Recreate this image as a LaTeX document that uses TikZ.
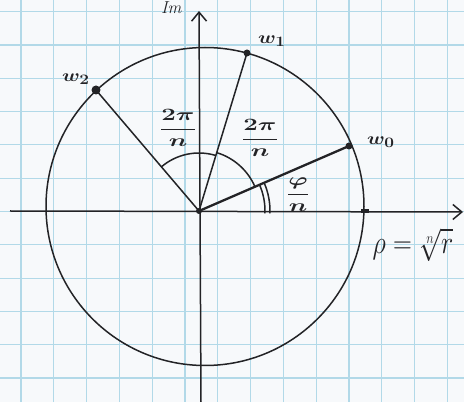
\documentclass[tikz,border=0pt]{standalone}
\usetikzlibrary{arrows.meta,calc}
\definecolor{ink}{RGB}{35,35,38}
\definecolor{gridblue}{RGB}{178,217,232}
\definecolor{paper}{RGB}{247,249,251}
\begin{document}
\begin{tikzpicture}[x=1pt,y=1pt,
  pen/.style={draw=ink, line width=1.5pt},
  gridline/.style={draw=gridblue, line width=1.1pt},
  dot/.style={circle, fill=ink, inner sep=0pt, minimum size=#1},
  lbl/.style={text=ink, inner sep=0pt},
  axisarrow/.style={pen, -{Straight Barb[length=9pt,width=15pt,line width=1.5pt]}}
]
\clip (0,0) rectangle (464,402);
\fill[paper] (0,0) rectangle (464,402);
% grid paper
\foreach \i in {0,...,13} \draw[gridline] ({21+32.8*\i},0) -- ({21+32.8*\i},402);
\foreach \j in {0,...,11} \draw[gridline] (0,{24+33.3*\j}) -- (464,{24+33.3*\j});

% key points
\coordinate (O) at (199,191);
\coordinate (C) at (205,195.5);
\coordinate (xl) at (10,191);
\coordinate (xr) at (463,190);
\coordinate (yb) at (201,0);
\coordinate (yt) at (199,391);

% circle
\draw[pen] (C) circle[radius=159];

% axes
\draw[axisarrow] (xl) -- (xr);
\draw[axisarrow] (yb) -- (yt);

% roots
\node[dot=7pt] (w0) at (349,256) {};
\node[dot=7pt] (w1) at (247,349) {};
\node[dot=9pt] (w2) at (96,312) {};
\node[dot=6pt] (o) at (O) {};
\node[rectangle, fill=ink, minimum width=8pt, minimum height=4pt, inner sep=0pt] (rho) at (365,190.5) {};

% rays
\draw[pen, line width=2.3pt] (o.center) -- (w0.center);
\draw[pen] (o.center) -- (w1.center);
\draw[pen] (o.center) -- (w2.center);

% angle arcs
\draw[pen] ($(O)+(130.4:58)$) arc[start angle=130.4, end angle=73.1, radius=58];
\draw[pen] ($(O)+(73.1:61)$) arc[start angle=73.1, end angle=23.4, radius=61];
\draw[pen] ($(O)+(-2:66)$) arc[start angle=-2, end angle=23.4, radius=66];
\draw[pen] ($(O)+(-2:71)$) arc[start angle=-2, end angle=23.4, radius=71];

% labels
\node[lbl, anchor=north, font=\fontsize{16}{18}\selectfont] (im) at (172,401) {$\mathit{Im}$};
\node[lbl, font=\fontsize{19}{22}\selectfont\boldmath] (lw2) at (76,323) {\scalebox{1.2}[1]{$w_2$}};
\node[lbl, font=\fontsize{19}{22}\selectfont\boldmath] (lw1) at (272,361) {\scalebox{1.2}[1]{$w_1$}};
\node[lbl, font=\fontsize{19}{22}\selectfont\boldmath] (lw0) at (381,260) {\scalebox{1.2}[1]{$w_0$}};
\node[lbl, font=\fontsize{16}{19}\selectfont\boldmath] (a2) at (178,274) {\scalebox{1.5}[1]{$\displaystyle\frac{2\pi}{n}$}};
\node[lbl, font=\fontsize{16}{19}\selectfont\boldmath] (a1) at (260,264) {\scalebox{1.5}[1]{$\displaystyle\frac{2\pi}{n}$}};
\node[lbl, font=\fontsize{16}{19}\selectfont\boldmath] (a0) at (298,207) {\scalebox{1.5}[1]{$\displaystyle\frac{\varphi}{n}$}};
\node[lbl, font=\fontsize{24}{28}\selectfont] (rl) at (413,157) {\scalebox{1.05}[1.3]{$\rho=\sqrt[n]{r}$}};
\end{tikzpicture}
\end{document}
